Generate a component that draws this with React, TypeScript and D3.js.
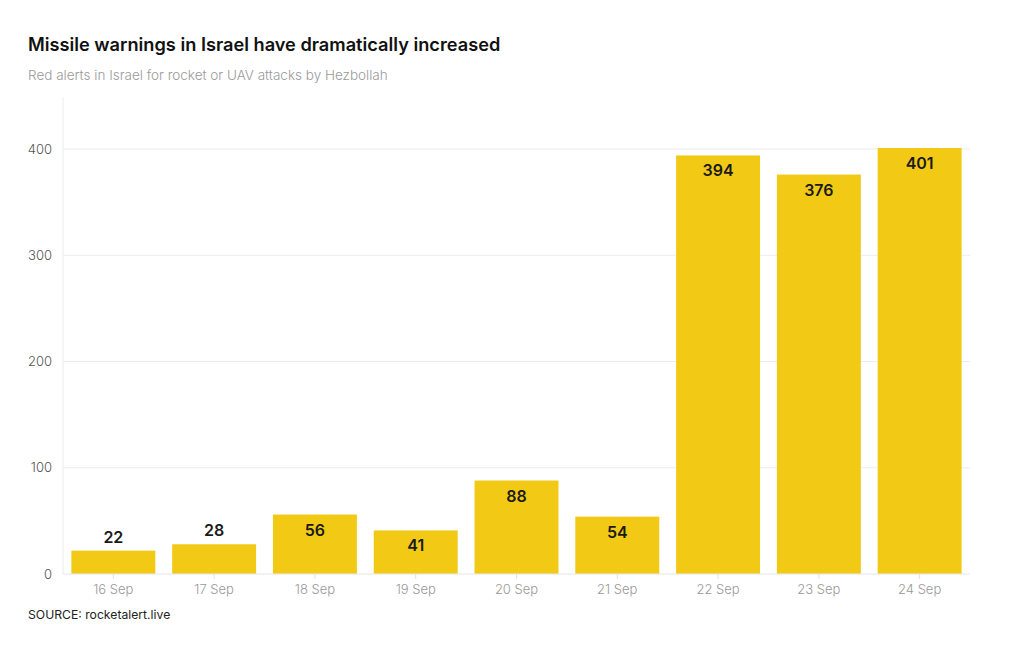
import React from "react";
import * as d3 from "d3";

const categories = ["16 Sep", "17 Sep", "18 Sep", "19 Sep", "20 Sep", "21 Sep", "22 Sep", "23 Sep", "24 Sep"];
const values = [22, 28, 56, 41, 88, 54, 394, 376, 401];
const yTicks = [0, 100, 200, 300, 400];

const W = 1020, H = 650;
const M = { left: 63, right: 50, top: 97, bottom: 76 };
const FONT = "Inter, 'Open Sans', sans-serif";

export default function App() {
  const x = d3.scaleBand<string>().domain(categories).range([M.left, W - M.right]).paddingInner(0.167).paddingOuter(0.083);
  const y = d3.scaleLinear().domain([0, 449]).range([H - M.bottom, M.top]);
  const y0 = y(0);
  return (
    <svg width={W} height={H} style={{ position: "absolute", left: 0, top: 0, background: "#fff" }} fontFamily={FONT}>
      <text x={28} y={51} fontSize={18.2} fontWeight={600} fill="#111">Missile warnings in Israel have dramatically increased</text>
      <text x={28} y={80} fontSize={13.5} fontWeight={300} fill="#9a9a9a">Red alerts in Israel for rocket or UAV attacks by Hezbollah</text>
      {yTicks.map(t => (
        <g key={t}>
          {t > 0 && <line x1={M.left} x2={W - M.right} y1={y(t)} y2={y(t)} stroke="#ececec" />}
          <text x={52} y={y(t)} dy="0.35em" textAnchor="end" fontSize={13} fontWeight={300} fill="#555">{t}</text>
        </g>
      ))}
      <line x1={M.left} x2={M.left} y1={M.top} y2={y0} stroke="#ececec" />
      {categories.map((c, i) => {
        const v = values[i];
        const bx = x(c)!;
        const top = y(v);
        const inside = y0 - top > 38;
        const ly = inside ? top + 21 : top - 8;
        return (
          <g key={c}>
            <rect x={bx} y={top} width={x.bandwidth()} height={y0 - top} fill="#f2ca16" />
            <text x={bx + x.bandwidth() / 2} y={ly} textAnchor="middle" fontSize={16} fontWeight={600} fill="#1a1a1a">{v}</text>
            <line x1={bx + x.bandwidth() / 2} x2={bx + x.bandwidth() / 2} y1={y0} y2={y0 + 5} stroke="#e0e0e0" />
            <text x={bx + x.bandwidth() / 2} y={y0 + 20} textAnchor="middle" fontSize={13} fontWeight={300} fill="#999">{c}</text>
          </g>
        );
      })}
      <line x1={M.left} x2={W - M.right} y1={y0} y2={y0} stroke="#e6e6e6" />
      <text x={28} y={619} fontSize={12.2} fill="#222">SOURCE: rocketalert.live</text>
    </svg>
  );
}
